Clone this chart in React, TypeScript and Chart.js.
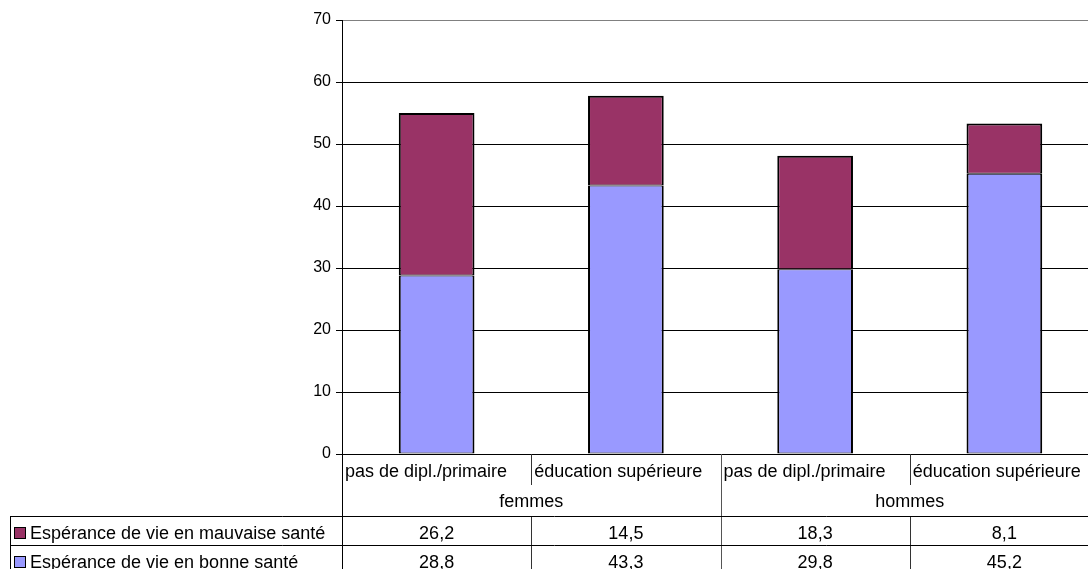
import React, { useEffect, useRef } from 'react';
import { Chart, registerables } from 'chart.js';

Chart.register(...registerables);

const groups = ['femmes', 'hommes'];
const categories = [
  'pas de dipl./primaire',
  'éducation supérieure',
  'pas de dipl./primaire',
  'éducation supérieure',
];
const seriesMauvaiseName = 'Espérance de vie en mauvaise santé';
const seriesBonneName = 'Espérance de vie en bonne santé';
const mauvaise = [26.2, 14.5, 18.3, 8.1];
const bonne = [28.8, 43.3, 29.8, 45.2];
const yMin = 0;
const yMax = 70;
const yStep = 10;

const COLOR_MAUVAISE = '#993366';
const COLOR_BONNE = '#9999FF';
const FONT_FAMILY = '"Liberation Sans", Arial, Helvetica, sans-serif';

const CANVAS_W = 1110;
const CANVAS_H = 569;

const fmt = (v: number) => v.toFixed(1).replace('.', ',');

const tablePlugin = {
  id: 'dataTable',
  afterDraw(chart: any) {
    const ctx: CanvasRenderingContext2D = chart.ctx;
    const { left, right, bottom, top } = chart.chartArea;
    const xs = chart.scales.x;
    const n = categories.length;
    const colW = (right - left) / n;
    const centers = categories.map((_, i) => xs.getPixelForValue(i));
    const edges = [centers[0] - colW / 2, ...centers.map((c) => c + colW / 2)];
    const H = chart.height;

    const catBottom = bottom + 31;
    const groupBottom = bottom + 62;
    const rowH = 29;
    const tableLeft = 10;

    const px = (v: number) => Math.round(v) + 0.5;
    const line = (x1: number, y1: number, x2: number, y2: number, color = '#000') => {
      ctx.strokeStyle = color;
      ctx.lineWidth = 1;
      ctx.beginPath();
      if (x1 === x2) {
        ctx.moveTo(px(x1), Math.round(y1));
        ctx.lineTo(px(x2), Math.round(y2));
      } else {
        ctx.moveTo(Math.round(x1), px(y1));
        ctx.lineTo(Math.round(x2), px(y2));
      }
      ctx.stroke();
    };

    ctx.save();
    // vertical lines
    line(edges[0], bottom, edges[0], H);
    for (let i = 1; i < n; i++) {
      if (i % 2 === 0) {
        line(edges[i], bottom, edges[i], H, '#555');
      } else {
        line(edges[i], bottom, edges[i], catBottom, '#333');
        line(edges[i], groupBottom, edges[i], H, '#333');
      }
    }
    line(edges[n], top, edges[n], H, '#808080');
    line(tableLeft, groupBottom, tableLeft, H);
    // horizontal lines
    line(tableLeft, groupBottom, edges[n], groupBottom);
    line(tableLeft, groupBottom + rowH, edges[n], groupBottom + rowH);
    line(tableLeft, groupBottom + 2 * rowH, edges[n], groupBottom + 2 * rowH);

    ctx.fillStyle = '#000';
    ctx.font = `18px ${FONT_FAMILY}`;
    ctx.textBaseline = 'alphabetic';

    // category labels
    ctx.textAlign = 'left';
    categories.forEach((c, i) => {
      ctx.fillText(c, edges[i] + 3, bottom + 23);
    });
    // group labels
    ctx.textAlign = 'center';
    groups.forEach((g, gi) => {
      const x = (edges[gi * 2] + edges[gi * 2 + 2]) / 2;
      ctx.fillText(g, x, bottom + 53);
    });

    const rows = [
      { name: seriesMauvaiseName, color: COLOR_MAUVAISE, values: mauvaise },
      { name: seriesBonneName, color: COLOR_BONNE, values: bonne },
    ];
    rows.forEach((r, ri) => {
      const rowTop = groupBottom + ri * rowH;
      const base = rowTop + 22.5;
      // legend key
      ctx.fillStyle = r.color;
      ctx.fillRect(14, rowTop + 11, 12, 12);
      ctx.strokeStyle = '#000';
      ctx.lineWidth = 1;
      ctx.strokeRect(14.5, rowTop + 11.5, 11, 11);
      ctx.fillStyle = '#000';
      ctx.textAlign = 'left';
      ctx.fillText(r.name, 30, base);
      ctx.textAlign = 'center';
      r.values.forEach((v, i) => {
        ctx.fillText(fmt(v), centers[i], base);
      });
    });
    ctx.restore();
  },
};

export default function App() {
  const canvasRef = useRef<HTMLCanvasElement | null>(null);

  useEffect(() => {
    const canvas = canvasRef.current;
    if (!canvas) return;
    const chart = new Chart(canvas, {
      type: 'bar',
      data: {
        labels: categories,
        datasets: [
          {
            label: seriesBonneName,
            data: bonne,
            backgroundColor: COLOR_BONNE,
            borderColor: '#000',
            borderWidth: { top: 1, bottom: 1, left: 2, right: 2 },
            borderSkipped: false,
            inflateAmount: 0,
            barPercentage: 0.4,
            categoryPercentage: 1,
          },
          {
            label: seriesMauvaiseName,
            data: mauvaise,
            backgroundColor: COLOR_MAUVAISE,
            borderColor: '#000',
            borderWidth: { top: 2, bottom: 1, left: 2, right: 2 },
            borderSkipped: false,
            inflateAmount: 0,
            barPercentage: 0.4,
            categoryPercentage: 1,
          },
        ],
      },
      options: {
        responsive: false,
        animation: false,
        events: [],
        layout: { padding: { top: 20, right: CANVAS_W - 1099, left: 0, bottom: 0 } },
        plugins: {
          legend: { display: false },
          tooltip: { enabled: false },
          title: { display: false },
        },
        scales: {
          x: {
            stacked: true,
            grid: { display: false },
            border: { display: false },
            ticks: { display: false },
            afterFit: (scale: any) => {
              scale.height = CANVAS_H - 454;
              scale.paddingLeft = 0;
              scale.paddingRight = 0;
            },
          },
          y: {
            stacked: true,
            min: yMin,
            max: yMax,
            ticks: {
              stepSize: yStep,
              color: '#000',
              padding: 5,
              font: { family: FONT_FAMILY, size: 16 },
            },
            grid: {
              color: (c: any) => (c.tick && c.tick.value === yMax ? '#808080' : '#000'),
              tickColor: '#000',
              tickLength: 6,
              drawTicks: true,
              lineWidth: 1,
            },
            border: { display: true, color: '#000', width: 1 },
            afterFit: (scale: any) => {
              scale.width = 342;
              scale.paddingTop = 0;
              scale.paddingBottom = 0;
            },
          },
        },
      },
      plugins: [tablePlugin],
    });
    return () => chart.destroy();
  }, []);

  return (
    <div
      style={{
        position: 'fixed',
        left: 0,
        top: 0,
        width: 1088,
        height: 569,
        overflow: 'hidden',
        background: '#fff',
      }}
    >
      <canvas
        ref={canvasRef}
        width={CANVAS_W}
        height={CANVAS_H}
        style={{ width: CANVAS_W, height: CANVAS_H, display: 'block' }}
      />
    </div>
  );
}
